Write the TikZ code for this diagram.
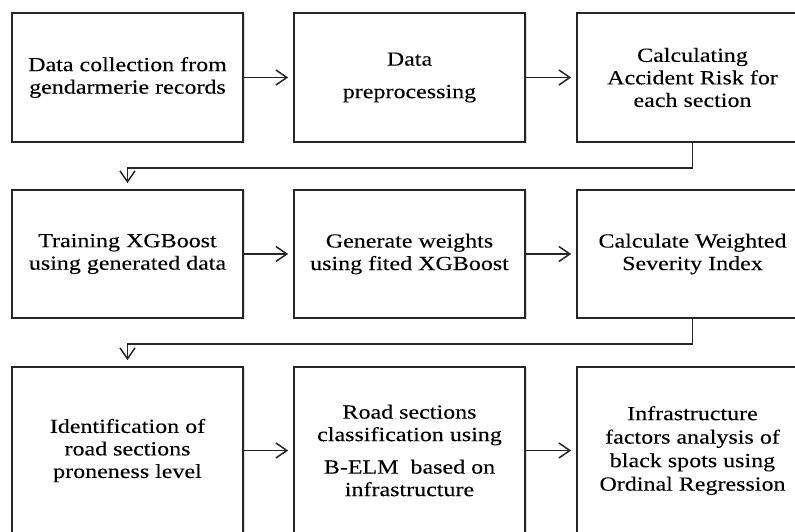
\documentclass[tikz,border=0pt]{standalone}
\usepackage{fontspec}
\setmainfont{Liberation Serif}[FakeStretch=1.2,FakeBold=0.15]
\usetikzlibrary{arrows.meta,shadows}
\begin{document}
\begin{tikzpicture}[x=1pt,y=1pt,
    stepbox/.style={draw=black!85,line width=1.6pt,fill=white,minimum width=231pt,
      inner sep=0pt,align=center,text=black,font=\fontsize{20}{22.5}\selectfont,
      drop shadow={shadow xshift=1.5pt,shadow yshift=-1.5pt,opacity=0.3}},
    flow/.style={draw=black!85,line width=1.5pt,shorten >=5pt,
      -{Straight Barb[length=11pt,width=15pt,line width=1.5pt]}}]
    \useasboundingbox (0,0) rectangle (795,532);
    \clip (0,0) rectangle (795,532);
    \node[stepbox,minimum height=129pt] (r1c1) at (127.5,454.5) {Data collection from\\gendarmerie records};
    \node[stepbox,minimum height=129pt] (r1c2) at (409.5,454.5) {Data\\[10pt]preprocessing};
    \node[stepbox,minimum height=129pt] (r1c3) at (692.5,454.5) {Calculating\\Accident Risk for\\each section};
    \node[stepbox,minimum height=128pt] (r2c1) at (127.5,278) {Training XGBoost\\using generated data};
    \node[stepbox,minimum height=128pt] (r2c2) at (409.5,278) {Generate weights\\using fited XGBoost};
    \node[stepbox,minimum height=128pt] (r2c3) at (692.5,278) {Calculate Weighted\\Severity Index};
    \node[stepbox,minimum height=167pt] (r3c1) at (127.5,81.5) {Identification of\\road sections\\proneness level};
    \node[stepbox,minimum height=167pt] (r3c2) at (409.5,81.5) {Road sections\\classification using\\[10pt]B-ELM\ \ based on\\infrastructure};
    \node[stepbox,minimum height=167pt,font=\fontsize{20}{23.5}\selectfont] (r3c3) at (692.5,81.5) {Infrastructure\\factors analysis of\\black spots using\\Ordinal Regression};
    \draw[flow] (r1c1) -- (r1c2);
    \draw[flow] (r1c2) -- (r1c3);
    \draw[flow] (r2c1) -- (r2c2);
    \draw[flow] (r2c2) -- (r2c3);
    \draw[flow] (r3c1) -- (r3c2);
    \draw[flow] (r3c2) -- (r3c3);
    \draw[flow,shorten >=6pt] (r1c3.south) -- ++(0,-25) -| (r2c1.north);
    \draw[flow,shorten >=6pt] (r2c3.south) -- ++(0,-25) -| (r3c1.north);
\end{tikzpicture}
\end{document}
